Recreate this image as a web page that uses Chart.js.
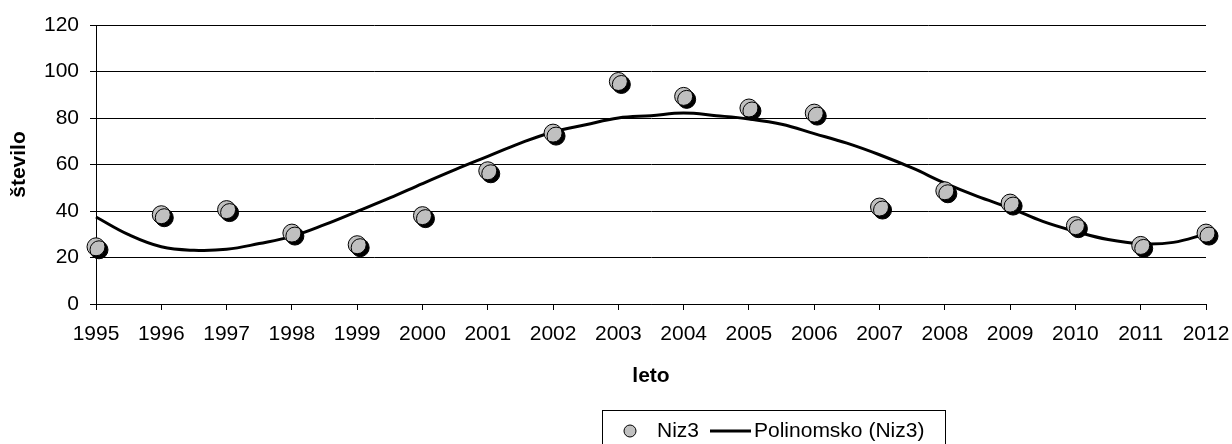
<!DOCTYPE html>
<html>
<head>
<meta charset="utf-8">
<script src="https://cdn.jsdelivr.net/npm/chart.js@4.4.1/dist/chart.umd.min.js"></script>
<style>
    html, body { margin: 0; padding: 0; background: #fff; }
    #wrap { width: 1232px; height: 444px; }
</style>
</head>
<body>
<div id="wrap"><canvas id="chart" width="1232" height="444"></canvas></div>
<script>
// data
const years = [1995, 1996, 1997, 1998, 1999, 2000, 2001, 2002, 2003, 2004, 2005, 2006, 2007, 2008, 2009, 2010, 2011, 2012];
const niz3 = [24.6, 38.4, 40.6, 30.5, 25.5, 38.0, 57.3, 73.5, 95.7, 89.3, 84.3, 82.1, 41.7, 48.7, 43.4, 33.7, 25.2, 30.5];

// trend line, read every half year
const trendYears = [1995, 1995.5, 1996, 1996.5, 1997, 1997.5, 1998, 1998.5, 1999, 1999.5, 2000, 2000.5, 2001, 2001.5,
    2002, 2002.5, 2003, 2003.5, 2004, 2004.5, 2005, 2005.5, 2006, 2006.5, 2007, 2007.5, 2008, 2008.5,
    2009, 2009.5, 2010, 2010.5, 2011, 2011.5, 2012];
const trendValues = [37.4, 29.8, 24.6, 23.1, 23.5, 26.0, 29.1, 34.1, 39.8, 45.6, 51.8, 57.8, 63.5, 69.2,
    74.0, 77.1, 80.0, 81.0, 82.1, 81.0, 79.6, 77.3, 73.3, 69.2, 64.2, 58.5, 52.0, 46.3,
    41.3, 35.5, 31.2, 27.7, 25.9, 26.5, 30.1];

const yTicks = [0, 20, 40, 60, 80, 100, 120];
const seriesNames = ['Niz3', 'Polinomsko (Niz3)'];

const FONT = 'Liberation Sans, Arial, sans-serif';
Chart.defaults.font.family = FONT;
Chart.defaults.color = '#000';

// hard shadow under the scatter markers
const markerShadow = {
    id: 'markerShadow',
    beforeDatasetDraw(chart, args) {
        if (args.index !== 1) return;
        const ctx = chart.ctx;
        ctx.save();
        ctx.shadowColor = '#000';
        ctx.shadowOffsetX = 3;
        ctx.shadowOffsetY = 3;
        ctx.shadowBlur = 0;
    },
    afterDatasetDraw(chart, args) {
        if (args.index !== 1) return;
        chart.ctx.restore();
    }
};

// boxed legend below the axis title
const boxLegend = {
    id: 'boxLegend',
    afterDraw(chart) {
        const ctx = chart.ctx;
        ctx.save();
        ctx.strokeStyle = '#000';
        ctx.lineWidth = 1;
        ctx.strokeRect(602.5, 410.5, 343, 40);

        const cy = 431;
        ctx.beginPath();
        ctx.arc(630, cy, 6, 0, Math.PI * 2);
        ctx.fillStyle = '#c0c0c0';
        ctx.fill();
        ctx.stroke();

        ctx.font = '21px ' + FONT;
        ctx.fillStyle = '#000';
        ctx.textBaseline = 'middle';
        ctx.fillText(seriesNames[0], 657, cy);

        ctx.beginPath();
        ctx.lineWidth = 3;
        ctx.moveTo(710, cy);
        ctx.lineTo(751, cy);
        ctx.stroke();
        ctx.fillText(seriesNames[1], 754, cy);
        ctx.restore();
    }
};

new Chart(document.getElementById('chart'), {
    type: 'scatter',
    data: {
        datasets: [
            {
                type: 'line',
                label: seriesNames[1],
                data: trendYears.map((x, i) => ({ x: x, y: trendValues[i] })),
                borderColor: '#000',
                borderWidth: 3,
                pointRadius: 0,
                fill: false,
                tension: 0.4,
                clip: false,
                order: 2
            },
            {
                label: seriesNames[0],
                data: years.map((x, i) => ({ x: x, y: niz3[i] })),
                backgroundColor: '#c0c0c0',
                borderColor: '#000',
                borderWidth: 1,
                pointRadius: 9,
                pointHoverRadius: 9,
                clip: false,
                order: 1
            }
        ]
    },
    options: {
        responsive: false,
        animation: false,
        events: [],
        layout: { padding: { left: 0, right: 26, top: 25, bottom: 0 } },
        plugins: {
            legend: { display: false },
            tooltip: { enabled: false }
        },
        scales: {
            x: {
                type: 'linear',
                min: 1995,
                max: 2012,
                afterBuildTicks(scale) {
                    scale.ticks = years.map(v => ({ value: v }));
                },
                afterFit(scale) {
                    scale.height = 140;
                    scale.paddingLeft = 0;
                    scale.paddingRight = 0;
                },
                ticks: {
                    font: { size: 21 },
                    padding: 12,
                    maxRotation: 0,
                    autoSkip: false,
                    callback: v => String(v)
                },
                grid: {
                    drawOnChartArea: false,
                    drawTicks: true,
                    tickLength: 6,
                    tickColor: '#000'
                },
                border: { display: true, color: '#000', width: 1 },
                title: {
                    display: true,
                    text: 'leto',
                    font: { size: 21, weight: 'bold' },
                    padding: { top: 0, bottom: 55 }
                }
            },
            y: {
                min: 0,
                max: 120,
                afterBuildTicks(scale) {
                    scale.ticks = yTicks.map(v => ({ value: v }));
                },
                afterFit(scale) { scale.width = 96; },
                ticks: {
                    font: { size: 21 },
                    padding: 11
                },
                grid: {
                    color: '#000',
                    lineWidth: 1,
                    drawTicks: true,
                    tickLength: 6,
                    tickColor: '#000'
                },
                border: { display: true, color: '#000', width: 1 },
                title: {
                    display: true,
                    text: 'število',
                    font: { size: 21, weight: 'bold' },
                    padding: { top: 7, bottom: 0 }
                }
            }
        }
    },
    plugins: [markerShadow, boxLegend]
});
</script>
</body>
</html>
